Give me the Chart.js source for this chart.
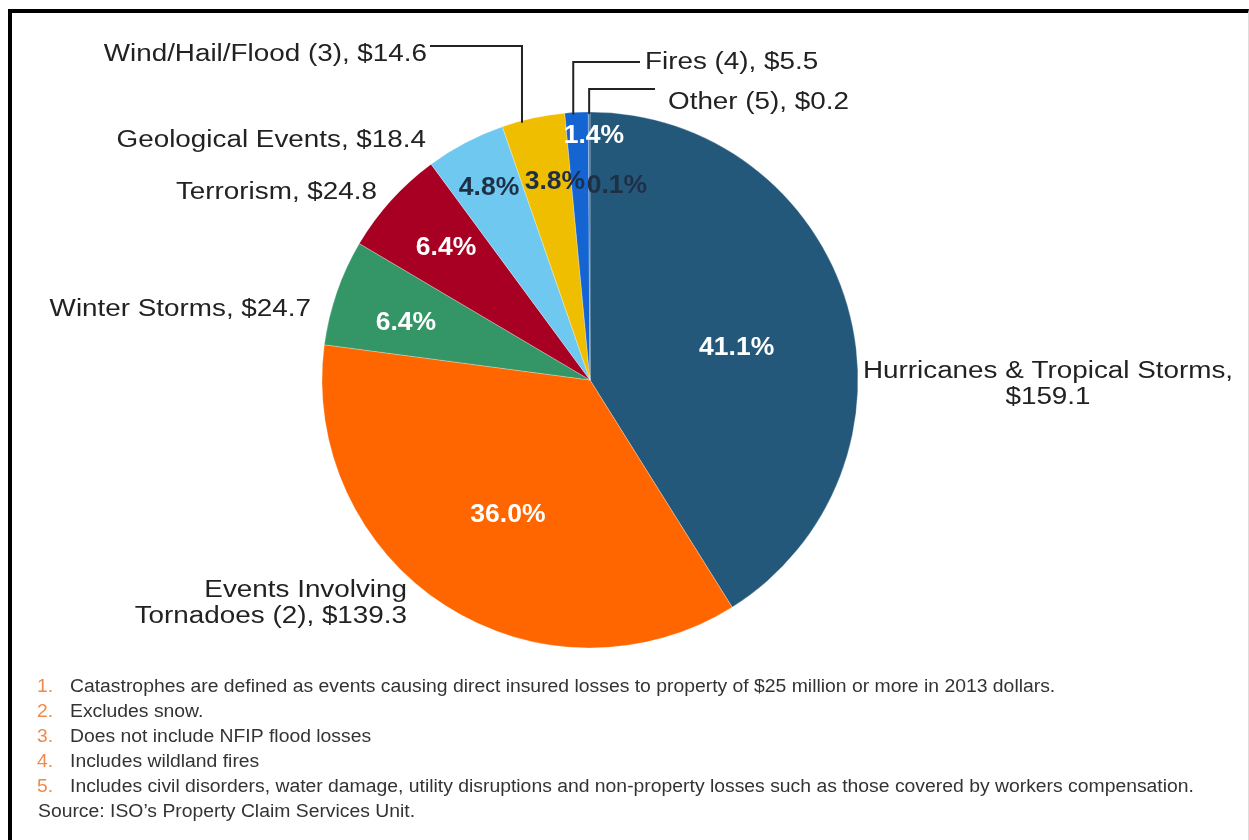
<!DOCTYPE html>
<html>
<head>
<meta charset="utf-8">
<script src="https://cdn.jsdelivr.net/npm/chart.js@4.4.3/dist/chart.umd.min.js"></script>
<style>
    html, body { margin: 0; padding: 0; background: #fff; }
    #wrap { position: relative; width: 1249px; height: 840px; overflow: hidden; background: #fff; }
    #pie { position: absolute; left: 0; top: 0; }
    #frame {
        position: absolute; left: 8px; top: 9px; right: 0; bottom: -10px;
        border-top: 4px solid #000; border-left: 4px solid #000; border-right: 1px solid #ddd;
        pointer-events: none;
    }
</style>
</head>
<body>
<div id="wrap">
    <canvas id="pie" width="1249" height="840"></canvas>
    <div id="frame"></div>
</div>
<script>
// Insured catastrophe losses by cause of loss ($ billions)
const categories = [
    'Hurricanes & Tropical Storms',
    'Events Involving\nTornadoes (2)',
    'Winter Storms',
    'Terrorism',
    'Geological Events',
    'Wind/Hail/Flood (3)',
    'Fires (4)',
    'Other (5)'
];
const lossBillions = [159.1, 139.3, 24.7, 24.8, 18.4, 14.6, 5.5, 0.2];
const sharePct = [41.1, 36.0, 6.4, 6.4, 4.8, 3.8, 1.4, 0.1];
const sliceColors = ['#23587a', '#ff6600', '#349666', '#a80022', '#6ec8f0', '#f0be00', '#1464d2', '#2a6fc0'];

const footnotes = [
    'Catastrophes are defined as events causing direct insured losses to property of $25 million or more in 2013 dollars.',
    'Excludes snow.',
    'Does not include NFIP flood losses',
    'Includes wildland fires',
    'Includes civil disorders, water damage, utility disruptions and non-property losses such as those covered by workers compensation.'
];
const sourceNote = "Source: ISO\u2019s Property Claim Services Unit.";

// where the percentage goes inside each slice: fraction of radius, angular nudge in degrees
const pctPlacement = [
    {r: 0.56, nudge: 3.7, color: '#fff'},
    {r: 0.59, nudge: -1.5, color: '#fff'},
    {r: 0.72, nudge: -1.7, color: '#fff'},
    {r: 0.73, nudge: 0.5, color: '#fff'},
    {r: 0.81, nudge: 0, color: '#1f3046'},
    {r: 0.75, nudge: 2.2, color: '#1f3046'},
    {r: 0.91, nudge: 3.8, color: '#fff'},
    {r: 0.73, nudge: 8.1, color: '#1f3046'}
];

// outer labels, offsets measured from the pie centre
const outerPlacement = [
    {dx: 458, dy: 5, align: 'center', wrapAmount: true},
    {dx: -183, dy: 224, align: 'right'},
    {dx: -279, dy: -70, align: 'right'},
    {dx: -213, dy: -187, align: 'right'},
    {dx: -164, dy: -239, align: 'right'},
    {dx: -163, dy: -325, align: 'right', leader: {at: 0.32, x: -160, y: -334}},
    {dx: 55, dy: -317, align: 'left', leader: {at: 0.36, x: 50, y: -318}},
    {dx: 78, dy: -277, align: 'left', leader: {at: 0.5, x: 65, y: -291}}
];

const FONT = '"Liberation Sans", Arial, Helvetica, sans-serif';

function drawText(ctx, text, x, y, opts) {
    ctx.save();
    ctx.translate(x, y);
    ctx.scale(opts.sx || 1, 1);
    ctx.font = (opts.weight || 'normal') + ' ' + opts.size + 'px ' + FONT;
    ctx.fillStyle = opts.color || '#222';
    ctx.textAlign = opts.align || 'left';
    ctx.textBaseline = 'middle';
    ctx.fillText(text, 0, 0);
    ctx.restore();
}

function labelLines(i) {
    const name = categories[i].split('\n');
    const amount = '$' + lossBillions[i].toFixed(1);
    if (outerPlacement[i].wrapAmount) {
        name[name.length - 1] += ',';
        name.push(amount);
    } else {
        name[name.length - 1] += ', ' + amount;
    }
    return name;
}

const sliceLabels = {
    id: 'sliceLabels',
    afterDatasetsDraw(chart) {
        const ctx = chart.ctx;
        const arcs = chart.getDatasetMeta(0).data;
        arcs.forEach((arc, i) => {
            const {x, y, startAngle, endAngle, outerRadius} =
                arc.getProps(['x', 'y', 'startAngle', 'endAngle', 'outerRadius'], true);

            // leader line from the slice edge up to the label
            const o = outerPlacement[i];
            if (o.leader) {
                const a = startAngle + (endAngle - startAngle) * o.leader.at;
                const ex = x + Math.cos(a) * outerRadius;
                const ey = y + Math.sin(a) * outerRadius + 2;
                ctx.save();
                ctx.strokeStyle = '#222';
                ctx.lineWidth = 2;
                ctx.beginPath();
                ctx.moveTo(ex, ey);
                ctx.lineTo(ex, y + o.leader.y);
                ctx.lineTo(x + o.leader.x, y + o.leader.y);
                ctx.stroke();
                ctx.restore();
            }

            // category label with dollar amount
            const lines = labelLines(i);
            lines.forEach((line, k) => {
                drawText(ctx, line, x + o.dx, y + o.dy + (k - (lines.length - 1) / 2) * 26,
                    {size: 23, sx: 1.21, align: o.align, color: '#222'});
            });

            // percentage inside the slice
            const p = pctPlacement[i];
            const m = (startAngle + endAngle) / 2 + p.nudge * Math.PI / 180;
            drawText(ctx, sharePct[i].toFixed(1) + '%',
                x + Math.cos(m) * outerRadius * p.r,
                y + Math.sin(m) * outerRadius * p.r,
                {size: 26, weight: 'bold', sx: 1.02, align: 'center', color: p.color});
        });
    }
};

const footnoteBlock = {
    id: 'footnoteBlock',
    afterDraw(chart) {
        const ctx = chart.ctx;
        const top = 687, step = 25;
        footnotes.forEach((note, i) => {
            const y = top + i * step;
            drawText(ctx, (i + 1) + '.', 37, y, {size: 18, sx: 1.07, color: '#f08a4b'});
            drawText(ctx, note, 70, y, {size: 18, sx: 1.075, color: '#333'});
        });
        drawText(ctx, sourceNote, 38, top + footnotes.length * step, {size: 18, sx: 1.075, color: '#333'});
    }
};

new Chart(document.getElementById('pie'), {
    type: 'pie',
    data: {
        labels: categories,
        datasets: [{
            data: sharePct,
            backgroundColor: sliceColors,
            borderColor: 'rgba(255,255,255,0.45)',
            borderWidth: 0.6,
            radius: 268
        }]
    },
    options: {
        responsive: false,
        animation: false,
        layout: {padding: {left: 290, right: 359, top: 90, bottom: 170}},
        plugins: {
            legend: {display: false},
            tooltip: {enabled: false}
        }
    },
    plugins: [sliceLabels, footnoteBlock]
});
</script>
</body>
</html>
